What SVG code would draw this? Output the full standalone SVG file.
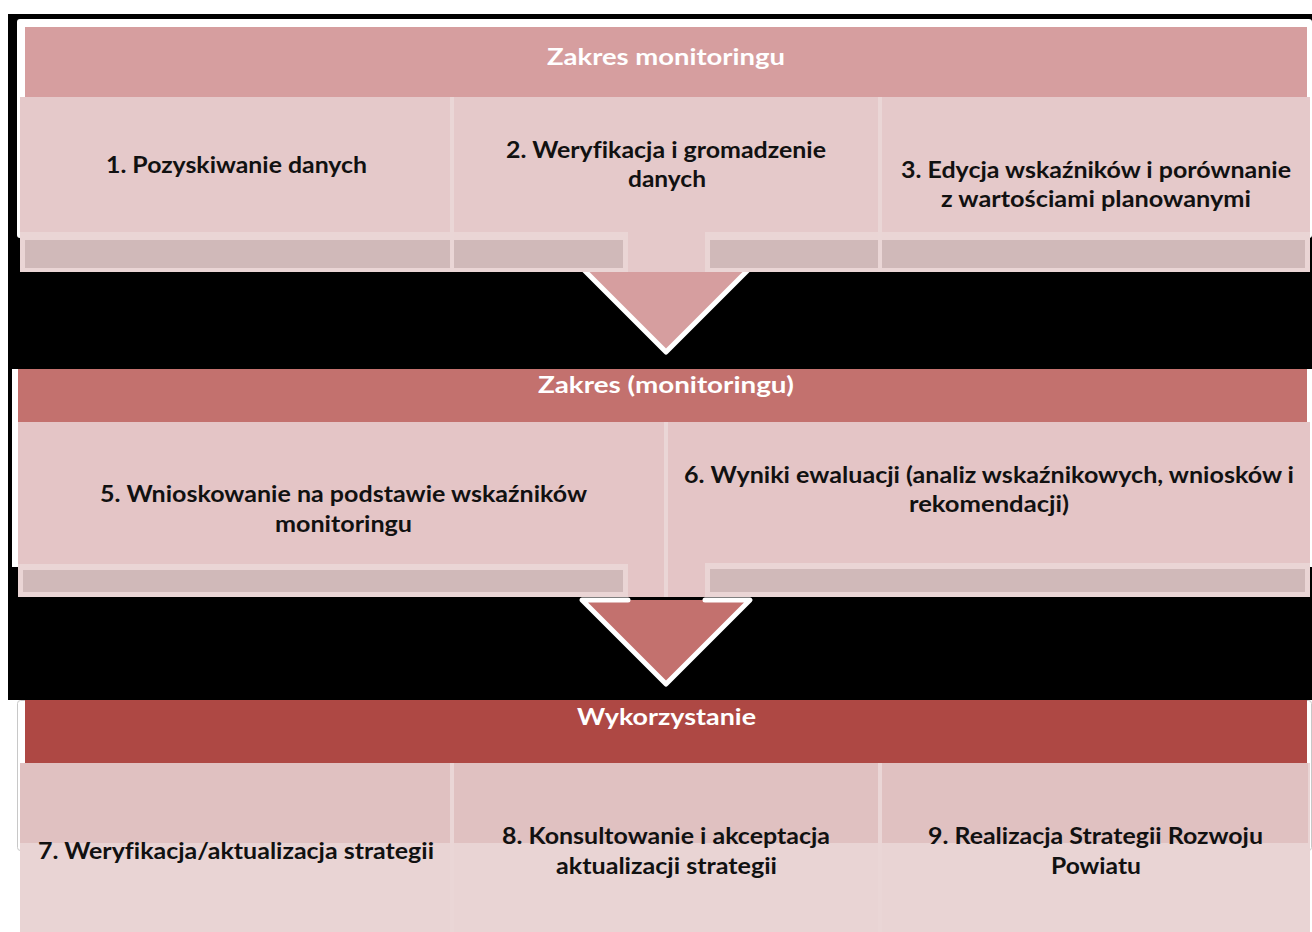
<svg xmlns="http://www.w3.org/2000/svg" width="1312" height="932" viewBox="0 0 1312 932">
<style>
.t{font-family:Lato,"Liberation Sans",sans-serif;font-weight:bold;font-size:22px;fill:#111;text-anchor:middle;font-variant-ligatures:none}
.h{font-family:Lato,"Liberation Sans",sans-serif;font-weight:bold;font-size:22px;fill:#fff;text-anchor:middle;font-variant-ligatures:none}
.box1{fill:#E5C9CA}
.box2{fill:#E4C5C6}
.barO{fill:#EAD5D5}
.barI{fill:#D0B9B9}
.sep{stroke:#EAD6D6;stroke-width:4}
.arw{fill:none;stroke:#fff;stroke-width:5;stroke-linejoin:round;stroke-linecap:round}
</style>
<rect width="1312" height="932" fill="#fff"/>
<g id="background">
<rect x="8" y="14" width="1304" height="686" fill="#000"/>
<rect x="17" y="19" width="1295" height="219" rx="3" fill="#fff"/>
<rect x="12" y="369" width="1300" height="198" fill="#fff"/>
<rect x="17.5" y="700.5" width="1294" height="150" rx="3" fill="#fff" stroke="#c8c8c8"/>
</g>
<g id="connectors">
<polygon points="582,268 750,268 666,352" fill="#D69E9F"/>
<polyline class="arw" points="582,268 666,352 750,268"/>
<polygon points="582,600 750,600 666,684" fill="#C3716E"/>
<polyline class="arw" points="628,600 582,600 666,684 750,600 705,600"/>
</g>
<g id="header1">
<rect x="25" y="27" width="1282" height="70" fill="#D69E9F"/>
<text class="h" x="666" y="65" textLength="238" lengthAdjust="spacingAndGlyphs">Zakres monitoringu</text>
</g>
<g id="row1">
<rect class="box1" x="20" y="97" width="432" height="175"/>
<rect class="box1" x="452" y="97" width="428" height="175"/>
<rect class="box1" x="880" y="97" width="430" height="175"/>
<rect class="barO" x="20" y="232" width="608" height="40"/>
<rect class="barI" x="25" y="240" width="598" height="28"/>
<rect class="barO" x="705" y="232" width="605" height="40"/>
<rect class="barI" x="710" y="240" width="595" height="28"/>
<line class="sep" x1="452" y1="97" x2="452" y2="272"/>
<line class="sep" x1="880" y1="97" x2="880" y2="272"/>
</g>
<g id="node1"><text class="t" x="236.5" y="173" textLength="261" lengthAdjust="spacingAndGlyphs">1. Pozyskiwanie danych</text></g>
<g id="node2">
<text class="t" x="666" y="158" textLength="320" lengthAdjust="spacingAndGlyphs">2. Weryfikacja i gromadzenie</text>
<text class="t" x="667" y="187" textLength="78" lengthAdjust="spacingAndGlyphs">danych</text>
</g>
<g id="node3">
<text class="t" x="1096" y="178" textLength="390" lengthAdjust="spacingAndGlyphs">3. Edycja wskaźników i porównanie</text>
<text class="t" x="1096" y="207" textLength="310" lengthAdjust="spacingAndGlyphs">z wartościami planowanymi</text>
</g>
<g id="header2">
<rect x="18" y="369" width="1289" height="53" fill="#C3716E"/>
<text class="h" x="666" y="393" textLength="256" lengthAdjust="spacingAndGlyphs">Zakres (monitoringu)</text>
</g>
<g id="row2">
<rect class="box2" x="18" y="422" width="648" height="175"/>
<rect class="box2" x="666" y="422" width="644" height="175"/>
<rect class="barO" x="18" y="564" width="610" height="33"/>
<rect class="barI" x="23" y="570" width="600" height="22"/>
<rect class="barO" x="705" y="563" width="605" height="34"/>
<rect class="barI" x="710" y="569" width="595" height="23"/>
<line class="sep" x1="666" y1="422" x2="666" y2="597"/>
</g>
<g id="node5">
<text class="t" x="343.5" y="502" textLength="487" lengthAdjust="spacingAndGlyphs">5. Wnioskowanie na podstawie wskaźników</text>
<text class="t" x="343.5" y="532" textLength="137" lengthAdjust="spacingAndGlyphs">monitoringu</text>
</g>
<g id="node6">
<text class="t" x="989" y="483" textLength="610" lengthAdjust="spacingAndGlyphs">6. Wyniki ewaluacji (analiz wskaźnikowych, wniosków i</text>
<text class="t" x="989" y="512" textLength="160" lengthAdjust="spacingAndGlyphs">rekomendacji)</text>
</g>
<g id="header3">
<rect x="25" y="700" width="1282" height="63" fill="#AE4844"/>
<text class="h" x="666.5" y="725" textLength="179" lengthAdjust="spacingAndGlyphs">Wykorzystanie</text>
</g>
<g id="row3">
<rect x="20" y="763" width="1290" height="169" fill="#E9D4D4"/>
<rect x="20" y="763" width="1288" height="80" fill="#E0C1C1"/>
<line class="sep" x1="452" y1="763" x2="452" y2="932"/>
<line class="sep" x1="880" y1="763" x2="880" y2="932"/>
</g>
<g id="node7"><text class="t" x="236" y="859" textLength="396" lengthAdjust="spacingAndGlyphs">7. Weryfikacja/aktualizacja strategii</text></g>
<g id="node8">
<text class="t" x="666" y="844" textLength="328" lengthAdjust="spacingAndGlyphs">8. Konsultowanie i akceptacja</text>
<text class="t" x="666.5" y="874" textLength="221" lengthAdjust="spacingAndGlyphs">aktualizacji strategii</text>
</g>
<g id="node9">
<text class="t" x="1095.5" y="844" textLength="335" lengthAdjust="spacingAndGlyphs">9. Realizacja Strategii Rozwoju</text>
<text class="t" x="1096" y="874" textLength="90" lengthAdjust="spacingAndGlyphs">Powiatu</text>
</g>
</svg>
